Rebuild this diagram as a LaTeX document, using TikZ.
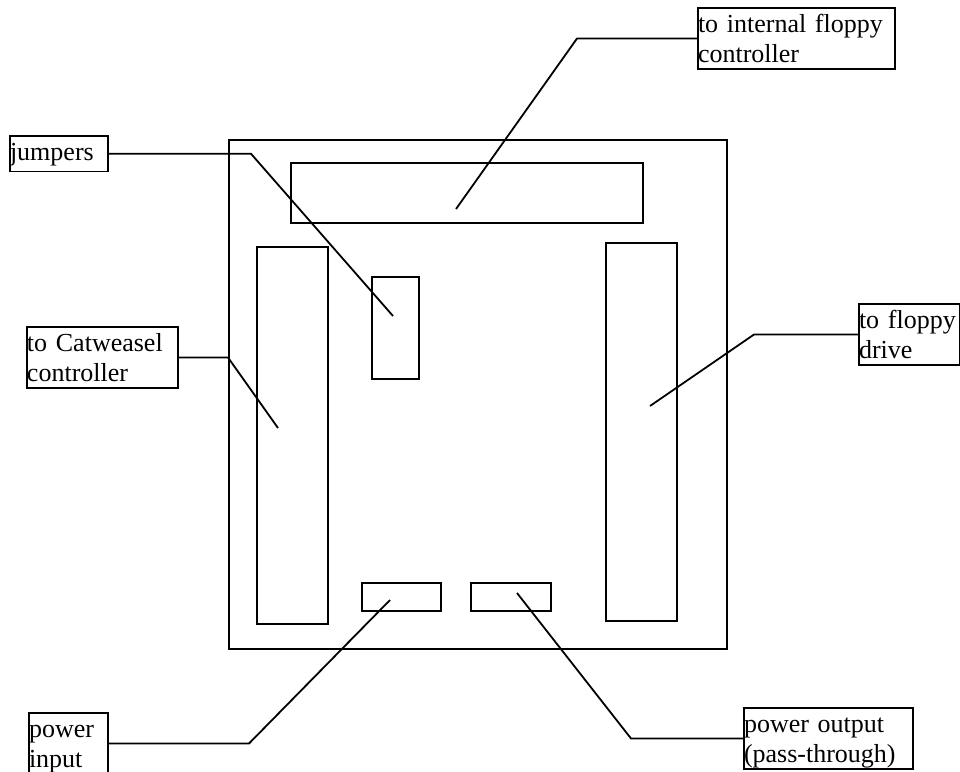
\documentclass[tikz,border=0pt]{standalone}
\usepackage{fontspec}
\setmainfont{Liberation Serif}

\begin{document}
\begin{tikzpicture}[x=1pt,y=-1pt,line width=1.8pt,
    part/.style={draw,anchor=north west,inner sep=0pt,outer sep=0pt},
    lbl/.style={draw,anchor=north west,inner sep=0pt,outer sep=0pt,align=left,
      font=\fontsize{26}{30}\selectfont,text height=24.5pt,text depth=36.5pt}]
    \useasboundingbox (0,0) rectangle (960,771);
    % board and its connectors
    \node[part,minimum width=498pt,minimum height=509pt] (board) at (229,140) {};
    \node[part,minimum width=352pt,minimum height=60pt] (fdc) at (291,163) {};
    \node[part,minimum width=71pt,minimum height=377pt] (cw) at (257,247) {};
    \node[part,minimum width=47pt,minimum height=102pt] (jmp) at (372,277) {};
    \node[part,minimum width=71pt,minimum height=378pt] (drv) at (606,243) {};
    \node[part,minimum width=79pt,minimum height=28pt] (pin) at (362,583) {};
    \node[part,minimum width=80pt,minimum height=28pt] (pout) at (471,583) {};
    % labels
    \node[lbl,text width=98pt,text depth=11pt] (jumpers) at (10,136) {jumpers};
    \node[lbl,text width=151pt] (cwlabel) at (27,327) {to Catweasel\\controller};
    \node[lbl,text width=197pt] (fdclabel) at (698,8) {to internal floppy\\controller};
    \node[lbl,text width=101pt] (drvlabel) at (859,304) {to floppy\\drive};
    \node[lbl,text width=79pt] (pinlabel) at (29,713) {power\\input};
    \node[lbl,text width=169pt] (poutlabel) at (744,708) {power output\\(pass-through)};
    % leader lines
    \coordinate (jmptip) at (393,316);
    \coordinate (cwtip) at (278,428);
    \coordinate (fdctip) at (456,209);
    \coordinate (drvtip) at (650,406);
    \coordinate (pintip) at (390,600);
    \coordinate (pouttip) at (517,593);
    \path[draw] (jumpers.east) -- ++(143,0) -- (jmptip);
    \path[draw] (cwlabel.east) -- ++(50,0) -- (cwtip);
    \path[draw] (fdclabel.west) -- ++(-121,0) -- (fdctip);
    \path[draw] (drvlabel.west) -- ++(-105,0) -- (drvtip);
    \path[draw] (pinlabel.east) -- ++(141,0) -- (pintip);
    \path[draw] (poutlabel.west) -- ++(-113,0) -- (pouttip);
\end{tikzpicture}
\end{document}
